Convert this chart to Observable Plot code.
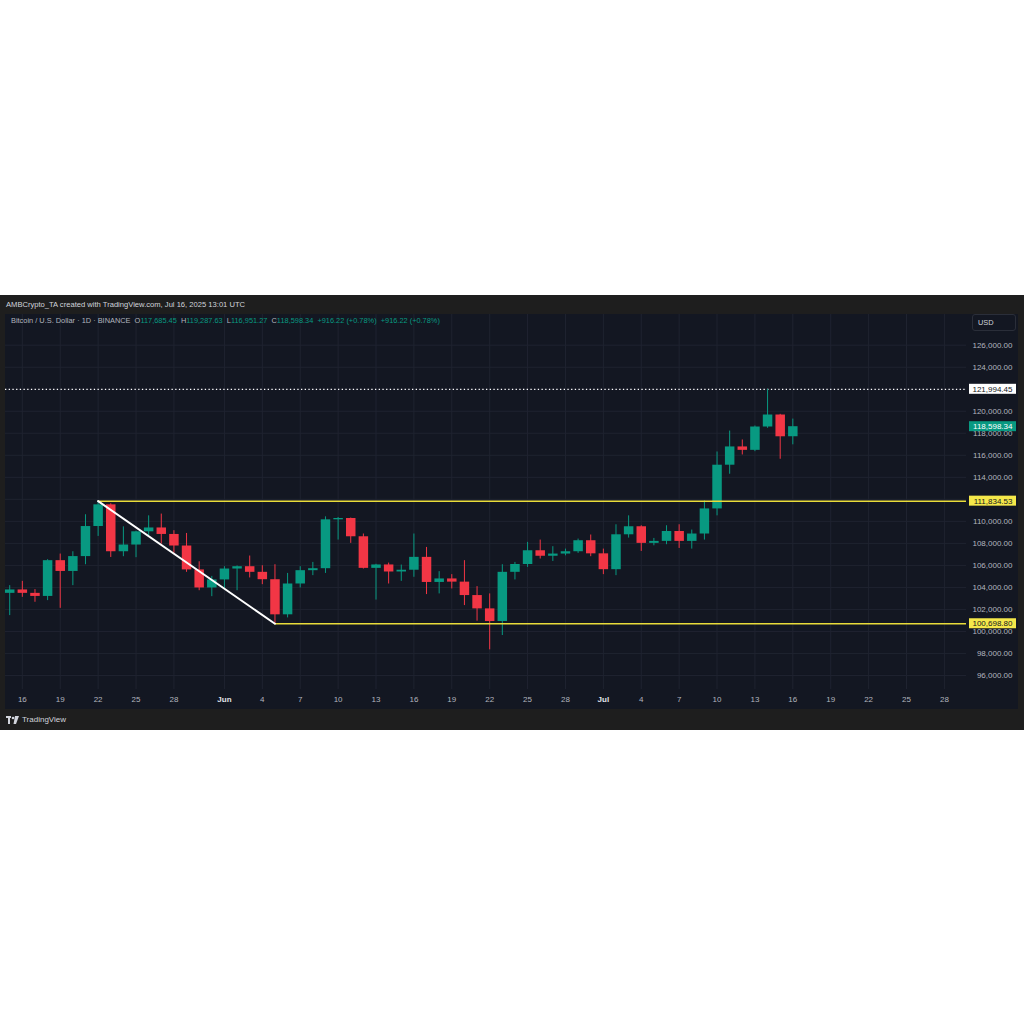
<!DOCTYPE html>
<html><head><meta charset="utf-8">
<script src="https://cdn.jsdelivr.net/npm/d3@7"></script>
<script src="https://cdn.jsdelivr.net/npm/@observablehq/plot@0.6"></script>
<style>
html,body{margin:0;padding:0;background:#fff;width:1024px;height:1024px;overflow:hidden;font-family:"Liberation Sans",Arial,sans-serif;}
#frame{position:absolute;left:0;top:295px;width:1024px;height:435px;background:#1e1e1e;}
#hdr{position:absolute;left:6px;top:0;height:19px;line-height:19px;font-size:7.6px;color:#d1d4dc;white-space:nowrap;}
#pane{position:absolute;left:5px;top:19px;width:1013px;height:395px;}
#legend{position:absolute;left:11px;top:21px;height:10px;line-height:10px;font-size:7.4px;color:#b2b5be;white-space:nowrap;}
#legend .v{color:#089981;}
#usd{position:absolute;left:972px;top:19px;width:42px;height:15px;border:1px solid #2a2e39;border-radius:3px;background:#131722;color:#d1d4dc;font-size:7.4px;line-height:15px;box-sizing:content-box;padding-left:0;}
#usd span{margin-left:5px;}
#foot{position:absolute;left:6px;top:414px;height:21px;line-height:21px;font-size:8px;color:#d1d4dc;white-space:nowrap;display:flex;align-items:center;gap:2px;}
</style></head>
<body>
<div id="frame">
  <div id="hdr">AMBCrypto_TA created with TradingView.com, Jul 16, 2025 13:01 UTC</div>
  <div id="pane"></div>
  <div id="legend"></div>
  <div id="usd"><span>USD</span></div>
  <div id="foot"><svg width="14" height="8" viewBox="0 0 14 8"><rect x="0" y="0" width="5" height="2" fill="#d1d4dc"/><rect x="2" y="0" width="2" height="8" fill="#d1d4dc"/><circle cx="7" cy="2" r="1.3" fill="#d1d4dc"/><polygon points="9,0 13,0 10,8 7.5,8" fill="#d1d4dc"/></svg><span>TradingView</span></div>
</div>
<script>
// ---- data ----
const dates = ["2025-05-15","2025-05-16","2025-05-17","2025-05-18","2025-05-19","2025-05-20","2025-05-21","2025-05-22","2025-05-23","2025-05-24","2025-05-25","2025-05-26","2025-05-27","2025-05-28","2025-05-29","2025-05-30","2025-05-31","2025-06-01","2025-06-02","2025-06-03","2025-06-04","2025-06-05","2025-06-06","2025-06-07","2025-06-08","2025-06-09","2025-06-10","2025-06-11","2025-06-12","2025-06-13","2025-06-14","2025-06-15","2025-06-16","2025-06-17","2025-06-18","2025-06-19","2025-06-20","2025-06-21","2025-06-22","2025-06-23","2025-06-24","2025-06-25","2025-06-26","2025-06-27","2025-06-28","2025-06-29","2025-06-30","2025-07-01","2025-07-02","2025-07-03","2025-07-04","2025-07-05","2025-07-06","2025-07-07","2025-07-08","2025-07-09","2025-07-10","2025-07-11","2025-07-12","2025-07-13","2025-07-14","2025-07-15","2025-07-16"];
const open  = [103460,103770,103460,103180,106430,105450,106800,109530,111500,107240,107850,109050,109400,108810,107760,105590,103950,104680,105670,105880,105370,104700,101510,104310,105520,105700,110140,110260,108600,105730,106040,105400,105560,106730,104450,104770,104480,103260,102050,100900,105370,106080,107330,106830,107030,107240,108240,107050,105610,108780,109510,108000,108180,109080,108180,108850,111130,115100,116760,116450,118570,119660,117685.45];
const high  = [104160,104550,103800,106520,107030,107240,110600,111834.53,111600,109500,109100,110500,110660,109150,108900,106330,105000,105880,105950,106850,105970,106060,105270,105880,106270,110410,110350,110300,108850,106100,106210,106030,108850,107630,105430,105160,106430,104070,103410,106060,106270,108090,108300,107700,107480,108390,108760,107480,109690,110500,109600,108450,109600,109690,109210,111860,116300,118200,117390,118660,121994.45,119720,119287.63];
const low   = [101440,103100,102650,102800,102100,104160,106060,108630,106720,106790,106700,108690,107940,107090,105370,103700,103160,103860,103700,104860,104250,100698.80,101230,103950,105070,105270,108300,108000,105670,102850,104310,104550,104920,103350,103410,103860,102350,100930,98330,99630,104680,105820,106580,106360,106870,107090,106790,105160,105070,108480,107270,107780,107880,107540,107480,108300,110500,114280,116030,116330,118450,115640,116951.27];
const close = [103770,103460,103180,106430,105450,106800,109530,111500,107240,107850,109050,109400,108810,107760,105590,103950,104680,105670,105880,105370,104700,101510,104310,105520,105700,110140,110260,108600,105730,106040,105400,105560,106730,104450,104770,104480,103260,102050,100900,105370,106080,107330,106830,107030,107240,108240,107050,105610,108780,109510,108000,108180,109080,108180,108850,111130,115100,116760,116450,118570,119660,117682.12,118598.34];

const dayTicks   = ["2025-05-16","2025-05-19","2025-05-22","2025-05-25","2025-05-28","2025-06-04","2025-06-07","2025-06-10","2025-06-13","2025-06-16","2025-06-19","2025-06-22","2025-06-25","2025-06-28","2025-07-04","2025-07-07","2025-07-10","2025-07-13","2025-07-16","2025-07-19","2025-07-22","2025-07-25","2025-07-28"];
const monthTicks = ["2025-06-01","2025-07-01"];
const monthNames = ["Jun","Jul"];
const priceTicks = [96000,98000,100000,102000,104000,106000,108000,110000,112000,114000,116000,118000,120000,122000,124000,126000];

const highLevel  = 121994.45;                       // dotted high line
const levelValues = [111834.53, 100698.80];          // yellow horizontal levels
const levelStarts = ["2025-05-22","2025-06-05"];
const trendDates  = ["2025-05-22","2025-06-05"];    // white trend line
const trendValues = [111834.53, 100698.80];
const lastClose = 118598.34;

const xDomain = ["2025-05-14T16:00Z","2025-07-29T18:00Z"];
const yDomain = [94727, 128789];

// ---- tables ----
const D = s => new Date(s.length === 10 ? s + "T00:00Z" : s);
const candles = dates.map((d,i)=>({date:D(d),open:open[i],high:high[i],low:low[i],close:close[i],
  color: close[i] >= open[i] ? "#089981" : "#f23645"}));
const xEnd = D(xDomain[1]);
const levels = levelValues.map((v,i)=>({v, from:D(levelStarts[i])}));
const trend = trendDates.map((d,i)=>({date:D(d), v:trendValues[i]}));
const fmt = d3.format(",.2f");
const labels = [
  {v: highLevel, fill:"#ffffff", text:"#131722"},
  {v: lastClose, fill:"#089981", text:"#ffffff"},
  {v: levelValues[0], fill:"#f5e84a", text:"#131722"},
  {v: levelValues[1], fill:"#f5e84a", text:"#131722"}
];

// legend
const last = candles[candles.length-1];
const prevClose = candles[candles.length-2].close;
const chg = last.close - prevClose;
const pct = chg / prevClose * 100;
const chgTxt = `+${fmt(chg)} (+${pct.toFixed(2)}%)`;
document.getElementById("legend").innerHTML =
  `Bitcoin / U.S. Dollar · 1D · BINANCE&nbsp; O<span class="v">${fmt(last.open)}</span>&nbsp; H<span class="v">${fmt(last.high)}</span>&nbsp; L<span class="v">${fmt(last.low)}</span>&nbsp; C<span class="v">${fmt(last.close)}</span>&nbsp; <span class="v">${chgTxt}</span>&nbsp; <span class="v">${chgTxt}</span>`;

const gridColor = "#1f2330";
const monthDates = monthTicks.map(D);
const plot = Plot.plot({
  width: 1013, height: 395,
  marginLeft: 0, marginRight: 52, marginTop: 0, marginBottom: 20,
  style: {background:"#131722", color:"#b2b5be", fontFamily:"'Liberation Sans', Arial, sans-serif", fontSize:"8px", overflow:"visible"},
  x: {type:"utc", domain: xDomain.map(D), label: null},
  y: {domain: yDomain, label: null},
  marks: [
    Plot.gridX(dayTicks.concat(monthTicks).map(D), {stroke: gridColor, strokeOpacity: 1}),
    Plot.gridY(priceTicks, {stroke: gridColor, strokeOpacity: 1}),
    Plot.axisX(dayTicks.map(D), {tickSize: 0, tickPadding: 7, tickFormat: d => String(d.getUTCDate()), fill:"#b2b5be", fontSize: 8}),
    Plot.axisX(monthDates, {tickSize: 0, tickPadding: 7, tickFormat: d => monthNames[monthDates.findIndex(m => +m === +d)], fill:"#e0e3eb", fontSize: 8, fontWeight:"bold"}),
    Plot.axisY(priceTicks, {anchor:"right", tickSize: 0, tickPadding: 0, textAnchor:"end", dx: 46, tickFormat: fmt, fill:"#b2b5be", fontSize: 8}),
    Plot.ruleY([highLevel], {stroke:"#ffffff", strokeWidth: 1.2, strokeDasharray:"1.3,2.4"}),
    Plot.ruleX(candles, {x:"date", y1:"low", y2:"high", stroke:"color", strokeWidth: 1}),
    Plot.ruleX(candles, {x:"date", y1:"open", y2:"close", stroke:"color", strokeWidth: 9.5}),
    Plot.ruleY(levels, {y:"v", x1:"from", x2: () => xEnd, stroke:"#e9dc3a", strokeWidth: 1.5}),
    Plot.line(trend, {x:"date", y:"v", stroke:"#ffffff", strokeWidth: 2}),
    Plot.rect(labels, {x1: () => xEnd, x2: () => xEnd, y1:"v", y2:"v", fill:"fill", insetLeft: 3, insetRight: -50, insetTop: -5, insetBottom: -5}),
    Plot.text(labels, {x: () => xEnd, y:"v", text: d => fmt(d.v), fill:"text", textAnchor:"end", dx: 46, fontSize: 8})
  ]
});
document.getElementById("pane").appendChild(plot);
</script>
</body></html>
